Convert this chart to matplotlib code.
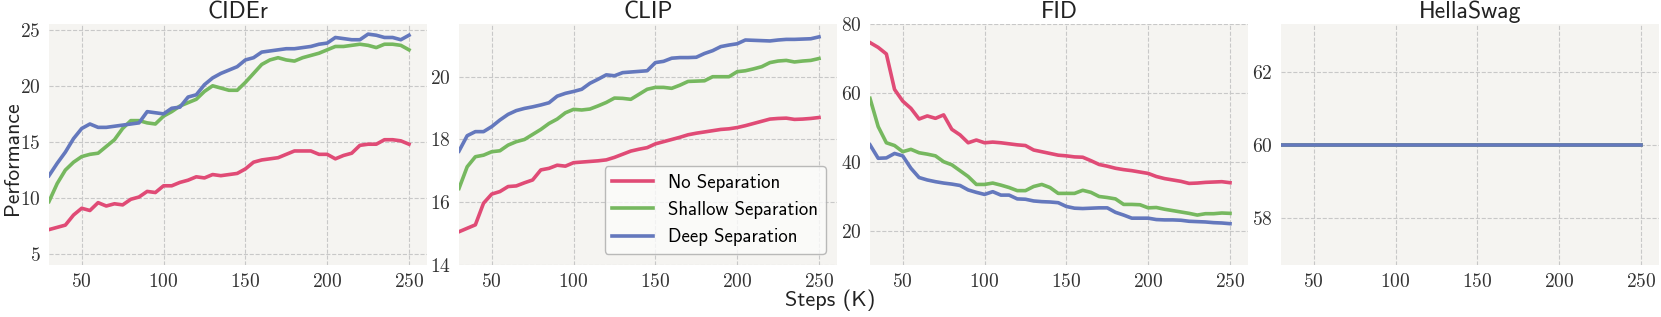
"""
Separation ablation: four metric panels over training steps.
"""

import matplotlib
matplotlib.use('Agg')
import matplotlib.pyplot as plt
import numpy as np

plt.rcParams['font.family'] = ['cmss10', 'DejaVu Sans']
plt.rcParams['axes.formatter.use_mathtext'] = True
plt.rcParams['mathtext.fontset'] = 'cm'

# x axis: training steps (K)
steps = np.arange(30, 251, 5)

labels = ['No Separation', 'Shallow Separation', 'Deep Separation']
colors = ['#e04b76', '#76b85f', '#6478bd']

# CIDEr
cider_no = [7.2, 7.4, 7.6, 8.5, 9.1, 8.9, 9.6, 9.3, 9.5, 9.4, 9.9, 10.1, 10.6, 10.5, 11.1,
            11.1, 11.4, 11.6, 11.9, 11.8, 12.1, 12.0, 12.1, 12.2, 12.6, 13.2, 13.4, 13.5, 13.6, 13.9,
            14.2, 14.2, 14.2, 13.9, 13.9, 13.5, 13.8, 14.0, 14.7, 14.8, 14.8, 15.2, 15.2, 15.1, 14.8]
cider_shallow = [9.7, 11.3, 12.5, 13.2, 13.7, 13.9, 14.0, 14.6, 15.2, 16.2, 16.9, 16.9, 16.7, 16.6, 17.3,
                 17.7, 18.2, 18.5, 18.8, 19.5, 20.0, 19.8, 19.6, 19.6, 20.3, 21.1, 21.9, 22.3, 22.5, 22.3,
                 22.2, 22.5, 22.7, 22.9, 23.2, 23.5, 23.5, 23.6, 23.7, 23.6, 23.4, 23.7, 23.7, 23.6, 23.2]
cider_deep = [12.0, 13.1, 14.1, 15.3, 16.2, 16.6, 16.3, 16.3, 16.4, 16.5, 16.6, 16.7, 17.7, 17.6, 17.5,
              18.0, 18.1, 19.0, 19.2, 20.1, 20.7, 21.1, 21.4, 21.7, 22.3, 22.5, 23.0, 23.1, 23.2, 23.3,
              23.3, 23.4, 23.5, 23.7, 23.8, 24.3, 24.2, 24.1, 24.1, 24.6, 24.5, 24.3, 24.3, 24.1, 24.5]

# CLIP
clip_no = [15.06, 15.17, 15.28, 15.97, 16.26, 16.34, 16.5, 16.52, 16.62, 16.71, 17.03, 17.08, 17.18, 17.15, 17.26,
           17.28, 17.3, 17.32, 17.35, 17.43, 17.53, 17.63, 17.69, 17.74, 17.86, 17.93, 18.0, 18.07, 18.15, 18.2,
           18.24, 18.28, 18.32, 18.34, 18.38, 18.44, 18.51, 18.58, 18.65, 18.67, 18.68, 18.64, 18.65, 18.67, 18.7]
clip_shallow = [16.44, 17.13, 17.45, 17.5, 17.61, 17.64, 17.82, 17.93, 18.0, 18.16, 18.32, 18.51, 18.65, 18.85, 18.96,
                18.94, 18.97, 19.07, 19.18, 19.32, 19.31, 19.28, 19.44, 19.6, 19.66, 19.66, 19.63, 19.73, 19.85, 19.86,
                19.87, 20.0, 20.0, 20.0, 20.16, 20.19, 20.25, 20.32, 20.45, 20.5, 20.52, 20.47, 20.5, 20.52, 20.58]
clip_deep = [17.63, 18.12, 18.25, 18.25, 18.41, 18.62, 18.8, 18.92, 18.99, 19.04, 19.1, 19.17, 19.38, 19.47, 19.53,
             19.6, 19.79, 19.92, 20.06, 20.03, 20.13, 20.15, 20.17, 20.19, 20.45, 20.49, 20.59, 20.61, 20.61, 20.62,
             20.74, 20.83, 20.96, 21.01, 21.05, 21.17, 21.16, 21.15, 21.14, 21.17, 21.19, 21.19, 21.2, 21.21, 21.27]

# FID
fid_no = [74.6, 73.2, 71.3, 61.0, 57.6, 55.5, 52.4, 53.3, 52.6, 53.6, 49.4, 47.8, 45.5, 46.3, 45.5,
          45.7, 45.5, 45.2, 44.9, 44.7, 43.4, 42.9, 42.4, 41.9, 41.7, 41.4, 41.3, 40.3, 39.2, 38.7,
          38.1, 37.7, 37.4, 37.0, 36.6, 35.7, 35.1, 34.7, 34.3, 33.7, 33.8, 34.0, 34.1, 34.2, 33.9]
fid_shallow = [58.4, 50.2, 45.5, 44.7, 42.9, 43.6, 42.6, 42.2, 41.7, 40.0, 39.1, 37.4, 35.7, 33.4, 33.4,
               33.8, 33.2, 32.5, 31.6, 31.6, 32.8, 33.4, 32.5, 30.8, 30.8, 30.8, 31.7, 31.1, 29.9, 29.6,
               29.2, 27.6, 27.6, 27.5, 26.6, 26.7, 26.2, 25.8, 25.4, 25.0, 24.5, 24.9, 24.9, 25.1, 25.0]
fid_deep = [44.9, 41.0, 41.1, 42.4, 41.7, 38.1, 35.4, 34.7, 34.2, 33.8, 33.5, 33.1, 31.8, 31.1, 30.5,
            31.3, 30.3, 30.3, 29.2, 29.1, 28.6, 28.4, 28.3, 28.1, 27.0, 26.5, 26.4, 26.5, 26.6, 26.6,
            25.3, 24.5, 23.6, 23.6, 23.6, 23.2, 23.1, 23.1, 23.0, 22.7, 22.6, 22.5, 22.3, 22.2, 22.0]

# HellaSwag: identical for all three settings
hella_no = [60.0] * len(steps)
hella_shallow = [60.0] * len(steps)
hella_deep = [60.0] * len(steps)

panels = [
    ('CIDEr', [cider_no, cider_shallow, cider_deep], (4.05, 25.5), [5, 10, 15, 20, 25]),
    ('CLIP', [clip_no, clip_shallow, clip_deep], (14, 21.68), [14, 16, 18, 20]),
    ('FID', [fid_no, fid_shallow, fid_deep], (10, 80), [20, 40, 60, 80]),
    ('HellaSwag', [hella_no, hella_shallow, hella_deep], (56.72, 63.3), [58, 60, 62]),
]

fig = plt.figure(figsize=(16.61, 3.17), dpi=100)
lefts = [49, 459, 870, 1281]
W, H = 1661, 317

for i, (title, series, ylim, yticks) in enumerate(panels):
    ax = fig.add_axes([lefts[i] / W, 1 - 265 / H, 378 / W, 241 / H])
    ax.set_facecolor('#f5f4f1')
    for vals, lab, c in zip(series, labels, colors):
        ax.plot(steps, vals, color=c, linewidth=2.6, label=lab)
    ax.set_xlim(30, 261)
    ax.set_ylim(*ylim)
    ax.set_xticks([50, 100, 150, 200, 250])
    ax.set_yticks(yticks)
    ax.set_xticklabels([f'${v}$' for v in [50, 100, 150, 200, 250]])
    ax.set_yticklabels([f'${v}$' for v in yticks])
    ax.tick_params(length=0, labelsize=14, colors='#333333', pad=6)
    ax.grid(True, linestyle='--', color='#c8c8c8', linewidth=0.8)
    ax.set_axisbelow(True)
    for s in ax.spines.values():
        s.set_visible(False)
    ax.set_title(title, fontsize=17, color='#222222', pad=4)
    if i == 1:
        leg = ax.legend(loc='lower right', fontsize=13.5, frameon=True, fancybox=True,
                        handlelength=2.2, borderaxespad=0.6)
        leg.get_frame().set_facecolor('#fcfcfb')
        leg.get_frame().set_edgecolor('#aaaaaa')

# shared axis labels, centred on the figure
fig.text(0.5, 0.02, 'Steps (K)', ha='center', va='bottom', fontsize=16, color='#222222')
fig.text(0.002, 0.5, 'Performance', ha='left', va='center', rotation=90,
         fontsize=15.5, color='#222222')

fig.savefig('out.png', dpi=100)
